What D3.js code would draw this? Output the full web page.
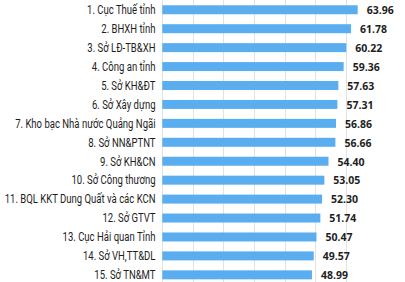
<!DOCTYPE html>
<html><head><meta charset="utf-8">
<script src="https://cdn.jsdelivr.net/npm/d3@7"></script>
<style>
html,body{margin:0;padding:0;background:#fff;}
svg{display:block;}
</style></head>
<body>
<svg id="chart" width="405" height="282"></svg>
<script>
const categories = [
  "1. Cục Thuế tỉnh",
  "2. BHXH tỉnh",
  "3. Sở LĐ-TB&XH",
  "4. Công an tỉnh",
  "5. Sở KH&ĐT",
  "6. Sở Xây dựng",
  "7. Kho bạc Nhà nước Quảng Ngãi",
  "8. Sở NN&PTNT",
  "9. Sở KH&CN",
  "10. Sở Công thương",
  "11. BQL KKT Dung Quất và các KCN",
  "12. Sở GTVT",
  "13. Cục Hải quan Tỉnh",
  "14. Sở VH,TT&DL",
  "15. Sở TN&MT"
];
const values = [63.96, 61.78, 60.22, 59.36, 57.63, 57.31, 56.86, 56.66, 54.40, 53.05, 52.30, 51.74, 50.47, 49.57, 48.99];
const valueLabels = ["63.96","61.78","60.22","59.36","57.63","57.31","56.86","56.66","54.40","53.05","52.30","51.74","50.47","49.57","48.99"];
const gridTicks = [0, 10, 20, 30, 40, 50, 60];

const svg = d3.select("#chart");
const x0 = 162.3;
const x = d3.scaleLinear().domain([0, 70]).range([x0, x0 + 70 * 3.055]);
const y = d3.scaleBand().domain(categories).range([0.3, 284.3]).paddingInner(0.525).paddingOuter(0.2625);

svg.append("g").selectAll("line").data(gridTicks).join("line")
  .attr("x1", d => Math.round(x(d)) + 0.5).attr("x2", d => Math.round(x(d)) + 0.5)
  .attr("y1", 0).attr("y2", 282)
  .attr("stroke", "#e2e2e2").attr("stroke-width", 1);

svg.append("g").selectAll("rect").data(values).join("rect")
  .attr("x", x(0))
  .attr("y", (d, i) => y(categories[i]))
  .attr("width", d => x(d) - x(0))
  .attr("height", y.bandwidth())
  .attr("fill", "#5aaeef");

const labels = svg.append("g").selectAll("g").data(categories).join("g")
  .attr("transform", d => `translate(155.5,${y(d) + y.bandwidth() / 2})`);
const lt = labels.append("text")
  .attr("text-anchor", "end")
  .attr("dy", "0.36em")
  .attr("font-family", "Roboto, 'Noto Sans', sans-serif")
  .attr("font-size", 12)
  .attr("fill", "#1e1e1e")
  .text(d => d);
// condensed look: scale horizontally so the longest label spans ~151px
let maxW = 0;
lt.each(function () { maxW = Math.max(maxW, this.getComputedTextLength()); });
const k = maxW > 0 ? 151 / maxW : 1;
lt.attr("transform", `scale(${k},1)`);

svg.append("g").selectAll("text").data(values).join("text")
  .attr("x", d => x(d) + 9)
  .attr("y", (d, i) => y(categories[i]) + y.bandwidth() / 2 + 0.5)
  .attr("dy", "0.36em")
  .attr("font-family", "'Open Sans', sans-serif")
  .attr("font-weight", "bold")
  .attr("font-size", 10.5)
  .attr("fill", "#1e1e1e")
  .text((d, i) => valueLabels[i]);
</script>
</body></html>
